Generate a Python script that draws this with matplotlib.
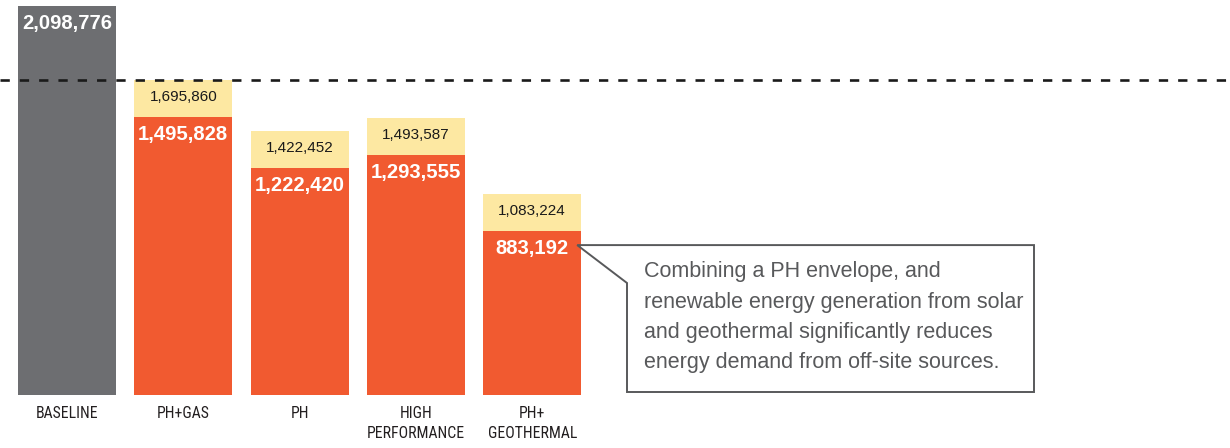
import numpy as np
import matplotlib
matplotlib.use('Agg')
import matplotlib.pyplot as plt
from matplotlib.patches import Polygon
from matplotlib.transforms import Affine2D

plt.rcParams['font.family'] = ['Liberation Sans', 'DejaVu Sans']
plt.rcParams['lines.scale_dashes'] = False

# energy use per scenario
categories = ['BASELINE', 'PH+GAS', 'PH', 'HIGH\nPERFORMANCE', 'PH+\nGEOTHERMAL']
offsite = [2098776, 1495828, 1222420, 1293555, 883192]   # demand from off-site sources
totals = [2098776, 1695860, 1422452, 1493587, 1083224]    # total demand
note_lines = ['Combining a PH envelope, and',
              'renewable energy generation from solar',
              'and geothermal significantly reduces',
              'energy demand from off-site sources.']

GREY = '#6d6e71'
ORANGE = '#f15a30'
YELLOW = '#fde8a2'
NOTE = '#58595b'

W, H = 1230, 448
fig = plt.figure(figsize=(W / 100, H / 100), dpi=100)
ax = fig.add_axes([0, 1 - 395 / H, 1, 395 / H])
ax.set_xlim(-67 / 116.3, (W - 67) / 116.3)
ax.set_ylim(0, totals[0] * 395 / 389.5)
ax.axis('off')

# pixel coords measured from the top-left corner of the figure
px = Affine2D().scale(1 / W, -1 / H).translate(0, 1) + fig.transFigure

x = np.arange(len(categories))
bw = 0.843
extra = np.array(totals) - np.array(offsite)
cols = [GREY] + [ORANGE] * (len(x) - 1)
ax.bar(x, offsite, bw, color=cols, zorder=2)
ax.bar(x[1:], extra[1:], bw, bottom=offsite[1:], color=YELLOW, zorder=2)

# reference level: PH+GAS total
ax.axhline(totals[1], color='#1a1a1a', lw=1.9, dashes=(6.7, 7.2), zorder=3)

for i in x:
    ax.annotate('{:,}'.format(offsite[i]), (i, offsite[i]), xytext=(0, -17.5),
                textcoords='offset pixels', ha='center', va='center',
                color='white', fontsize=14.6, fontweight='bold', zorder=4)
    if totals[i] != offsite[i]:
        ax.annotate('{:,}'.format(totals[i]), (i, totals[i]), xytext=(0, -17),
                    textcoords='offset pixels', ha='center', va='center',
                    color='#1a1a1a', fontsize=11, zorder=4)
    ax.annotate(categories[i], (i, 0), xytext=(0, -11), textcoords='offset pixels',
                ha='center', va='top', fontsize=11.3, linespacing=1.4,
                family='Roboto Condensed', color='#231f20', annotation_clip=False)

# callout pointing at the PH+GEOTHERMAL off-site label
fig.canvas.draw()
tip_disp = ax.transData.transform((x[-1] + bw / 2, offsite[-1]))
tip = px.inverted().transform(tip_disp)
tx, ty = tip[0] - 4, tip[1] + 14
box = Polygon([(tx, ty), (1034, ty), (1034, 392), (627, 392), (627, 283)],
              closed=True, fill=False, edgecolor=NOTE, lw=1.4, transform=px,
              zorder=5)
fig.add_artist(box)
for k, line in enumerate(note_lines):
    fig.text(644, 272 + 30.2 * k, line, transform=px, ha='left', va='center',
             fontsize=15.5, color=NOTE)

fig.savefig('out.png', dpi=100)
